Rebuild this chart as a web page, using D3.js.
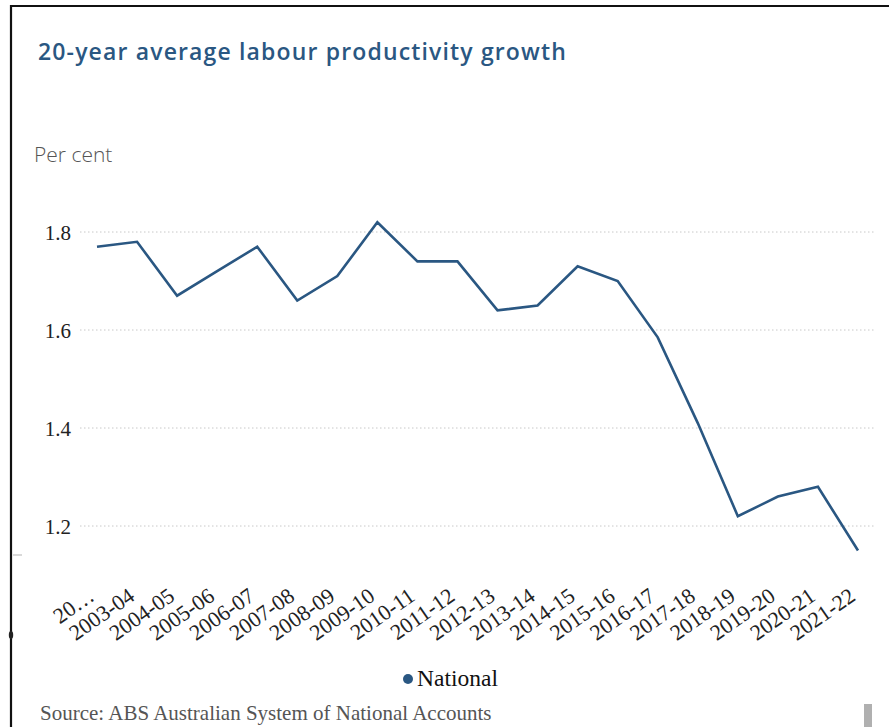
<!DOCTYPE html>
<html>
<head>
<meta charset="utf-8">
<script src="https://cdn.jsdelivr.net/npm/d3@7"></script>
<style>
  html, body { margin: 0; padding: 0; background: #fff; }
  svg { display: block; }
</style>
</head>
<body>
<svg id="chart" width="889" height="727"></svg>
<script>
const categories = ["20…","2003-04","2004-05","2005-06","2006-07","2007-08","2008-09","2009-10","2010-11","2011-12","2012-13","2013-14","2014-15","2015-16","2016-17","2017-18","2018-19","2019-20","2020-21","2021-22"];
const nationalValues = [1.77,1.78,1.67,1.72,1.77,1.66,1.71,1.82,1.74,1.74,1.64,1.65,1.73,1.70,1.585,1.41,1.22,1.26,1.28,1.15];
const yTicks = [1.2,1.4,1.6,1.8];
const seriesName = "National";
const titleText = "20-year average labour productivity growth";
const yAxisTitle = "Per cent";
const sourceText = "Source: ABS Australian System of National Accounts";

const svg = d3.select("#chart");
const lineColor = "#2a5782";
const serif = "'Liberation Serif', 'Times New Roman', serif";

// frame
svg.append("line").attr("x1",10).attr("x2",889).attr("y1",6).attr("y2",6).attr("stroke","#111").attr("stroke-width",2.2);
svg.append("line").attr("x1",11).attr("x2",11).attr("y1",5).attr("y2",727).attr("stroke","#111").attr("stroke-width",2.2);
svg.append("ellipse").attr("cx",11).attr("cy",635).attr("rx",2.2).attr("ry",4).attr("fill","#222");
svg.append("line").attr("x1",13).attr("x2",22).attr("y1",555).attr("y2",555).attr("stroke","#ccc").attr("stroke-width",1.5);
svg.append("rect").attr("x",864).attr("y",704).attr("width",8).attr("height",23).attr("fill","#b0b0b0");

// title
svg.append("text").attr("x",38).attr("y",60)
  .attr("font-family","'Open Sans', sans-serif").attr("font-weight",600).attr("font-size",23)
  .attr("letter-spacing",1.15)
  .attr("fill",lineColor).text(titleText);

svg.append("text").attr("x",34).attr("y",162)
  .attr("font-family","'Open Sans', sans-serif").attr("font-weight",300).attr("font-size",21)
  .attr("fill","#555").text(yAxisTitle);

const x = d3.scalePoint().domain(categories).range([97, 858]);
const y = d3.scaleLinear().domain([1.2, 1.8]).range([526, 232]);

// gridlines
const grid = svg.append("g");
grid.selectAll("line").data(yTicks).join("line")
  .attr("x1",80).attr("x2",876)
  .attr("y1",d=>y(d)).attr("y2",d=>y(d))
  .attr("stroke","#c8c8c8").attr("stroke-width",1).attr("stroke-dasharray","1.5,2.5");

// y axis
const yAxis = d3.axisLeft(y).tickValues(yTicks).tickFormat(d3.format(".1f")).tickSize(0).tickPadding(0);
const yg = svg.append("g").attr("transform","translate(71,0)").call(yAxis)
  .attr("font-family", serif).attr("font-size", 21);
yg.select(".domain").remove();
yg.selectAll("text").style("font-family", serif).style("font-size","21px").attr("fill","#222").attr("dy","0.35em");

// x axis
const xAxis = d3.axisBottom(x).tickSize(0).tickPadding(0);
const xg = svg.append("g").attr("transform","translate(0,598)").call(xAxis)
  .attr("font-family", serif).attr("font-size", 22);
xg.select(".domain").remove();
xg.selectAll("text")
  .style("font-family", serif).style("font-size","22px").attr("fill","#222")
  .attr("text-anchor","end").attr("dy","0").attr("y",0).attr("x",-2)
  .attr("transform","rotate(-35)");

// line
const line = d3.line().x((d,i)=>x(categories[i])).y(d=>y(d));
svg.append("path").datum(nationalValues).attr("d",line)
  .attr("fill","none").attr("stroke",lineColor).attr("stroke-width",2.6).attr("stroke-linejoin","miter");

// legend
svg.append("circle").attr("cx",408).attr("cy",679).attr("r",5).attr("fill",lineColor);
svg.append("text").attr("x",417).attr("y",686)
  .attr("font-family",serif).attr("font-size",23.5).attr("fill","#111").text(seriesName);

// source
svg.append("text").attr("x",40).attr("y",720)
  .attr("font-family",serif).attr("font-size",21).attr("fill","#555").text(sourceText);
</script>
</body>
</html>
